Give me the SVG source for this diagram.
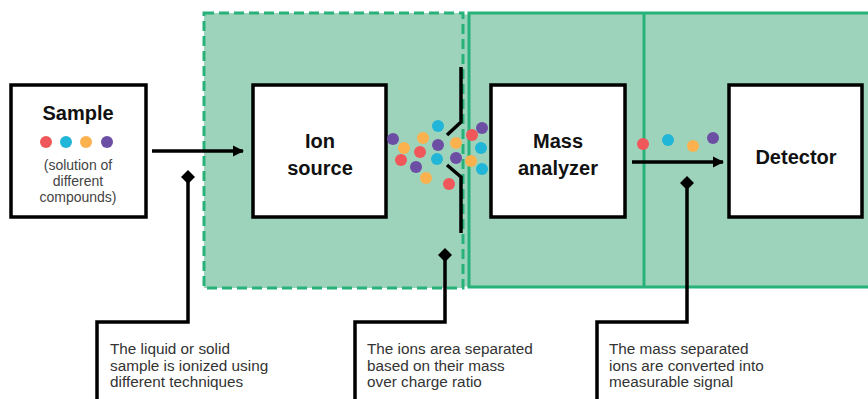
<svg xmlns="http://www.w3.org/2000/svg" width="868" height="399" viewBox="0 0 868 399">
<defs>
<style>
.zone{fill:#9ed3bb;stroke:#27b27a;stroke-width:3}
.dash{stroke-dasharray:10 5}
.box{fill:#ffffff;stroke:#000;stroke-width:3.5}
.t{font-family:"Liberation Sans",Arial,sans-serif;font-weight:bold;font-size:20px;fill:#111;text-anchor:middle}
.s{font-family:"Liberation Sans",Arial,sans-serif;font-size:14px;fill:#444;text-anchor:middle}
.c{font-family:"Liberation Sans",Arial,sans-serif;font-size:15.3px;fill:#333}
.ln{fill:none;stroke:#000;stroke-width:3.5}
.red{fill:#f0575a}.cy{fill:#21b6d7}.or{fill:#fbb24e}.pu{fill:#6d4ea5}
</style>
<marker id="ah" viewBox="0 0 10 10" refX="9" refY="5" markerWidth="3.2" markerHeight="3.2" orient="auto" markerUnits="strokeWidth">
<path d="M0,0 L10,5 L0,10 Z" fill="#000"/>
</marker>
</defs>
<rect width="868" height="399" fill="#fff"/>
<g id="zones">
<rect x="460" y="14.5" width="12" height="272" fill="#9ed3bb"/>
<rect x="469" y="13" width="405" height="274" class="zone"/>
<line x1="644" y1="13" x2="644" y2="287" stroke="#27b27a" stroke-width="3"/>
<rect x="204" y="13" width="259" height="275" class="zone dash"/>
</g>
<g id="sample">
<rect x="11" y="85" width="135" height="132" class="box"/>
<text x="78" y="120" class="t">Sample</text>
<circle cx="46" cy="142" r="6" class="red"/>
<circle cx="66" cy="142" r="6" class="cy"/>
<circle cx="86" cy="142" r="6" class="or"/>
<circle cx="107" cy="142" r="6" class="pu"/>
<text x="78" y="170" class="s">(solution of</text>
<text x="78" y="186" class="s">different</text>
<text x="78" y="202" class="s">compounds)</text>
</g>
<g id="ion-source">
<rect x="253" y="85" width="133" height="132" class="box"/>
<text x="320" y="148" class="t">Ion</text>
<text x="320" y="175" class="t">source</text>
</g>
<g id="mass-analyzer">
<rect x="491" y="85" width="134" height="132" class="box"/>
<text x="558" y="148" class="t">Mass</text>
<text x="558" y="175" class="t">analyzer</text>
</g>
<g id="detector">
<rect x="729" y="85" width="133" height="132" class="box"/>
<text x="796" y="164" class="t">Detector</text>
</g>
<g id="slit">
<polyline points="461,67 461,122 447,135" class="ln"/>
<polyline points="447,165 461,177 461,233" class="ln"/>
</g>
<g id="ions">
<circle cx="393" cy="139" r="6" class="pu"/>
<circle cx="404" cy="148" r="6" class="or"/>
<circle cx="401" cy="160" r="6" class="red"/>
<circle cx="416" cy="167" r="6" class="pu"/>
<circle cx="426" cy="178" r="6" class="or"/>
<circle cx="423" cy="138" r="6" class="or"/>
<circle cx="420" cy="152" r="6" class="red"/>
<circle cx="438" cy="126" r="6" class="cy"/>
<circle cx="438" cy="145" r="6" class="pu"/>
<circle cx="437" cy="159" r="6" class="cy"/>
<circle cx="449" cy="184" r="6" class="red"/>
<circle cx="456" cy="143" r="6" class="or"/>
<circle cx="456" cy="158" r="6" class="pu"/>
<circle cx="472" cy="135" r="6" class="red"/>
<circle cx="482" cy="128" r="6" class="pu"/>
<circle cx="481" cy="148" r="6" class="cy"/>
<circle cx="471" cy="161" r="6" class="or"/>
<circle cx="482" cy="169" r="6" class="cy"/>
<circle cx="643" cy="144" r="6" class="red"/>
<circle cx="668" cy="140" r="6" class="cy"/>
<circle cx="693" cy="146" r="6" class="or"/>
<circle cx="713" cy="138" r="6" class="pu"/>
</g>
<g id="connectors">
<line x1="152" y1="151" x2="243" y2="151" class="ln" marker-end="url(#ah)"/>
<line x1="632" y1="162" x2="723" y2="162" class="ln" marker-end="url(#ah)"/>
<path d="M188,170 L195,177 L188,184 L181,177 Z" fill="#000"/>
<polyline points="188,177 188,322 97,322 97,399" class="ln"/>
<path d="M445,248 L452,255 L445,262 L438,255 Z" fill="#000"/>
<polyline points="445,255 445,322 355,322 355,399" class="ln"/>
<path d="M687,176 L694,183 L687,190 L680,183 Z" fill="#000"/>
<polyline points="687,183 687,322 597,322 597,399" class="ln"/>
</g>
<g id="callouts">
<text x="110" y="354" class="c">The liquid or solid</text>
<text x="110" y="371" class="c">sample is ionized using</text>
<text x="110" y="387" class="c">different techniques</text>
<text x="367" y="354" class="c">The ions area separated</text>
<text x="367" y="371" class="c">based on their mass</text>
<text x="367" y="387" class="c">over charge ratio</text>
<text x="609" y="354" class="c">The mass separated</text>
<text x="609" y="371" class="c">ions are converted into</text>
<text x="609" y="387" class="c">measurable signal</text>
</g>
</svg>
